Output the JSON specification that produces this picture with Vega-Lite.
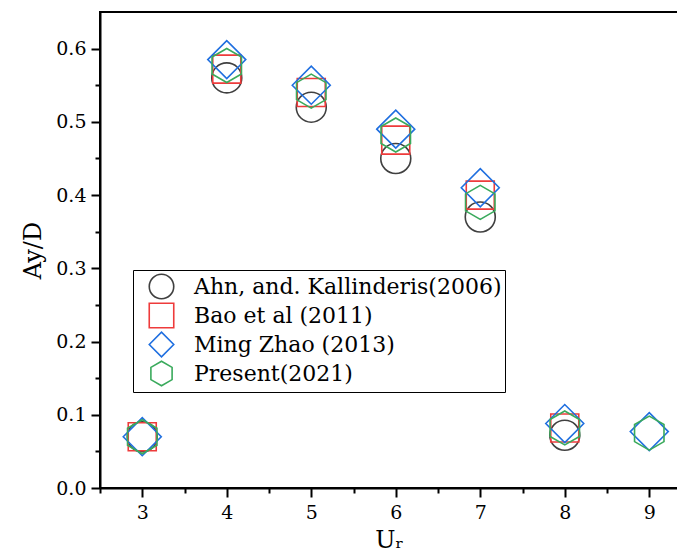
{
  "$schema": "https://vega.github.io/schema/vega-lite/v6.json",
  "width": 578,
  "height": 476,
  "autosize": {"type": "none"},
  "padding": {"left": 100, "top": 12, "right": 0, "bottom": 72},
  "background": "white",
  "config": {
    "font": "DejaVu Serif",
    "view": {"stroke": "black", "strokeWidth": 2}
  },
  "data": {
    "values": [
      {"Ur": 3, "Ay": 0.07, "series": "Ahn, and. Kallinderis(2006)"},
      {"Ur": 4, "Ay": 0.56, "series": "Ahn, and. Kallinderis(2006)"},
      {"Ur": 5, "Ay": 0.52, "series": "Ahn, and. Kallinderis(2006)"},
      {"Ur": 6, "Ay": 0.45, "series": "Ahn, and. Kallinderis(2006)"},
      {"Ur": 7, "Ay": 0.37, "series": "Ahn, and. Kallinderis(2006)"},
      {"Ur": 8, "Ay": 0.072, "series": "Ahn, and. Kallinderis(2006)"},
      {"Ur": 3, "Ay": 0.07, "series": "Bao et al (2011)"},
      {"Ur": 4, "Ay": 0.572, "series": "Bao et al (2011)"},
      {"Ur": 5, "Ay": 0.54, "series": "Bao et al (2011)"},
      {"Ur": 6, "Ay": 0.475, "series": "Bao et al (2011)"},
      {"Ur": 7, "Ay": 0.40, "series": "Bao et al (2011)"},
      {"Ur": 8, "Ay": 0.082, "series": "Bao et al (2011)"},
      {"Ur": 3, "Ay": 0.07, "series": "Ming Zhao (2013)"},
      {"Ur": 4, "Ay": 0.585, "series": "Ming Zhao (2013)"},
      {"Ur": 5, "Ay": 0.55, "series": "Ming Zhao (2013)"},
      {"Ur": 6, "Ay": 0.49, "series": "Ming Zhao (2013)"},
      {"Ur": 7, "Ay": 0.41, "series": "Ming Zhao (2013)"},
      {"Ur": 8, "Ay": 0.088, "series": "Ming Zhao (2013)"},
      {"Ur": 9, "Ay": 0.077, "series": "Ming Zhao (2013)"},
      {"Ur": 3, "Ay": 0.07, "series": "Present(2021)"},
      {"Ur": 4, "Ay": 0.577, "series": "Present(2021)"},
      {"Ur": 5, "Ay": 0.542, "series": "Present(2021)"},
      {"Ur": 6, "Ay": 0.482, "series": "Present(2021)"},
      {"Ur": 7, "Ay": 0.39, "series": "Present(2021)"},
      {"Ur": 8, "Ay": 0.082, "series": "Present(2021)"},
      {"Ur": 9, "Ay": 0.075, "series": "Present(2021)"}
    ]
  },
  "encoding": {
    "x": {
      "field": "Ur", "type": "quantitative",
      "scale": {"domain": [2.5, 9.34], "nice": false, "zero": false},
      "axis": {
        "title": "Uᵣ",
        "titleFontSize": 24, "titleFontWeight": "normal", "titleColor": "black", "titlePadding": 6,
        "values": [2.5, 3, 3.5, 4, 4.5, 5, 5.5, 6, 6.5, 7, 7.5, 8, 8.5, 9],
        "labelExpr": "datum.value % 1 == 0 ? format(datum.value, 'd') : ''",
        "labelFontSize": 19, "labelColor": "black", "labelPadding": 6,
        "grid": false,
        "domainColor": "black", "domainWidth": 2,
        "tickColor": "black", "tickWidth": 2,
        "tickSize": {"condition": {"test": "datum.value % 1 != 0", "value": 5}, "value": 9},
        "labelFlush": false, "labelOverlap": false
      }
    },
    "y": {
      "field": "Ay", "type": "quantitative",
      "scale": {"domain": [0, 0.65], "nice": false},
      "axis": {
        "title": "Ay/D",
        "titleFontSize": 24, "titleFontWeight": "normal", "titleColor": "black", "titlePadding": 10,
        "values": [0, 0.05, 0.1, 0.15, 0.2, 0.25, 0.3, 0.35, 0.4, 0.45, 0.5, 0.55, 0.6],
        "labelExpr": "abs(datum.value*10 - round(datum.value*10)) < 0.01 ? format(datum.value, '.1f') : ''",
        "labelFontSize": 19, "labelColor": "black", "labelPadding": 5,
        "grid": false,
        "domainColor": "black", "domainWidth": 2,
        "tickColor": "black", "tickWidth": 2,
        "tickSize": {"condition": {"test": "abs(datum.value*10 - round(datum.value*10)) > 0.01", "value": 5}, "value": 9},
        "labelFlush": false, "labelOverlap": false
      }
    },
    "shape": {
      "field": "series", "type": "nominal",
      "scale": {
        "domain": ["Ahn, and. Kallinderis(2006)", "Bao et al (2011)", "Ming Zhao (2013)", "Present(2021)"],
        "range": ["circle", "square", "diamond", "M0,-1L0.866,-0.5L0.866,0.5L0,1L-0.866,0.5L-0.866,-0.5Z"]
      },
      "legend": {
        "title": null,
        "orient": "none", "legendX": 33, "legendY": 258,
        "strokeColor": "black", "padding": 3,
        "labelFontSize": 22, "labelColor": "black", "labelLimit": 400,
        "symbolSize": 600, "symbolStrokeWidth": 1.6, "symbolOffset": 12,
        "labelOffset": 19, "rowPadding": -10, "fillColor": "white"
      }
    },
    "stroke": {
      "field": "series", "type": "nominal",
      "scale": {
        "domain": ["Ahn, and. Kallinderis(2006)", "Bao et al (2011)", "Ming Zhao (2013)", "Present(2021)"],
        "range": ["#404040", "#ee3b3b", "#1f6fe0", "#3aaa5c"]
      },
      "legend": {
        "title": null,
        "orient": "none", "legendX": 33, "legendY": 258,
        "strokeColor": "black", "padding": 3,
        "labelFontSize": 22, "labelColor": "black", "labelLimit": 400,
        "symbolSize": 600, "symbolStrokeWidth": 1.6, "symbolOffset": 12,
        "labelOffset": 19, "rowPadding": -10, "fillColor": "white"
      }
    }
  },
  "layer": [
    {
      "transform": [{"filter": "datum.series == 'Ahn, and. Kallinderis(2006)'"}],
      "mark": {"type": "point", "filled": false, "strokeWidth": 1.6, "opacity": 1, "size": 900}
    },
    {
      "transform": [{"filter": "datum.series == 'Bao et al (2011)'"}],
      "mark": {"type": "point", "filled": false, "strokeWidth": 1.6, "opacity": 1, "size": 784}
    },
    {
      "transform": [{"filter": "datum.series == 'Ming Zhao (2013)'"}],
      "mark": {"type": "point", "filled": false, "strokeWidth": 1.6, "opacity": 1, "size": 1444}
    },
    {
      "transform": [{"filter": "datum.series == 'Present(2021)'"}],
      "mark": {"type": "point", "filled": false, "strokeWidth": 1.6, "opacity": 1, "size": 1156}
    }
  ]
}
